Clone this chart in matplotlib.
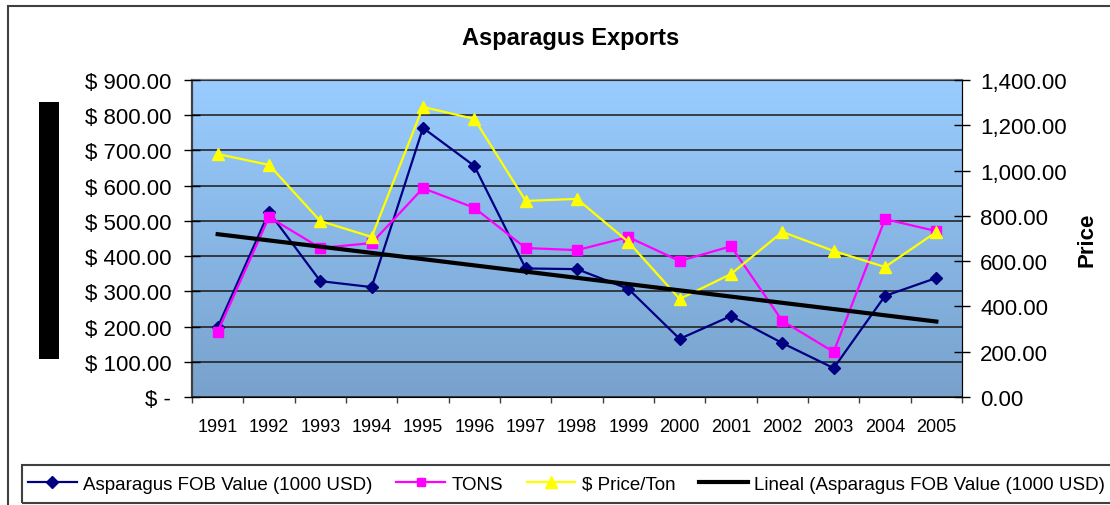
import numpy as np
import matplotlib
matplotlib.use("Agg")
import matplotlib.pyplot as plt
from matplotlib.patches import Rectangle
from matplotlib.ticker import FuncFormatter, FixedLocator

plt.rcParams['font.family'] = ['Liberation Sans', 'DejaVu Sans']

years = ['1991', '1992', '1993', '1994', '1995', '1996', '1997', '1998',
         '1999', '2000', '2001', '2002', '2003', '2004', '2005']
fob_value = [198, 525, 329, 312, 764, 656, 365, 363, 307, 165, 230, 153, 82, 287, 338]
tons = [185, 511, 423, 437, 593, 537, 423, 417, 454, 386, 428, 216, 128, 505, 471]
price_ton = [1073, 1025, 777, 707, 1281, 1228, 866, 875, 685, 433, 543, 729, 645, 574, 729]

left_ticks = list(range(0, 901, 100))
right_ticks = list(range(0, 1401, 200))

W, H = 1110, 506
fig = plt.figure(figsize=(W / 100, H / 100), dpi=100)
ax = fig.add_axes([192 / W, 1 - 398 / H, 770 / W, 317 / H])
ax2 = ax.twinx()

x = np.arange(len(years))

# gradient plot area
grad = np.linspace(0, 1, 256).reshape(-1, 1)
top = np.array([153, 204, 255]) / 255
bot = np.array([120, 162, 204]) / 255
img = top[None, None, :] * (1 - grad[:, :, None]) + bot[None, None, :] * grad[:, :, None]
ax.imshow(img, extent=(0, 1, 0, 1), transform=ax.transAxes, aspect='auto', zorder=0)

ax.set_xlim(-0.5, len(years) - 0.5)
ax.set_ylim(0, 900)
ax2.set_ylim(0, 1400)

ax.set_yticks(left_ticks)
ax2.set_yticks(right_ticks)
ax.yaxis.set_major_formatter(FuncFormatter(lambda v, p: '$ -' if v == 0 else '$ {:,.2f}'.format(v)))
ax2.yaxis.set_major_formatter(FuncFormatter(lambda v, p: '{:,.2f}'.format(v)))

ax.xaxis.set_major_locator(FixedLocator(np.arange(-0.5, len(years), 1.0)))
ax.xaxis.set_minor_locator(FixedLocator(x))
ax.set_xticklabels([], minor=False)
ax.set_xticklabels(years, minor=True)
ax.tick_params(axis='x', which='major', direction='out', length=4, width=1, color='#404040')
ax.tick_params(axis='x', which='minor', length=0, pad=15, labelsize=13)
ax.tick_params(axis='y', direction='inout', length=12, width=1, pad=9, labelsize=16)
ax2.tick_params(axis='y', direction='inout', length=12, width=1, pad=7, labelsize=16)

ax.grid(axis='y', color='#1a1a1a', linewidth=1.1)
ax.set_axisbelow(False)
ax.spines['left'].set_color('#404040')
ax.spines['left'].set_linewidth(1.6)
ax.spines['top'].set_color('#808080')
ax.spines['top'].set_linewidth(1.6)
ax2.spines['top'].set_visible(False)
ax2.spines['left'].set_visible(False)
ax2.spines['bottom'].set_visible(False)
ax2.spines['right'].set_color('black')

l1, = ax.plot(x, fob_value, color='#000080', lw=1.6, marker='D', ms=6.5, zorder=3,
              label='Asparagus FOB Value (1000 USD)')
l2, = ax.plot(x, tons, color='#FF00FF', lw=1.6, marker='s', ms=7, zorder=3, label='TONS')
l3, = ax2.plot(x, price_ton, color='#FFFF00', lw=1.6, marker='^', ms=9, zorder=3,
               label='$ Price/Ton')
# linear trendline of FOB value
coef = np.polyfit(x, fob_value, 1)
l4, = ax2.plot(x, np.polyval(coef, x), color='black', lw=3, zorder=4,
               transform=ax.transData, label='Lineal (Asparagus FOB Value (1000 USD)')

ax2.set_ylabel('Price', fontsize=16, fontweight='bold', labelpad=7)

fig.text(571 / W, 1 - 38 / H, 'Asparagus Exports', ha='center', va='center',
         fontsize=17, fontweight='bold')

# left axis title box
fig.patches.append(Rectangle((39 / W, 1 - 360 / H), 20 / W, 257 / H,
                             transform=fig.transFigure, facecolor='black', edgecolor='none'))
# chart border
fig.patches.append(Rectangle((8 / W, -0.1), 1.2, 1.1 - 7 / H, transform=fig.transFigure,
                             fill=False, edgecolor='#404040', lw=1.5))
# legend box
fig.patches.append(Rectangle((22 / W, 1 - 504 / H), 1.2, 38 / H, transform=fig.transFigure,
                             fill=False, edgecolor='#404040', lw=1.5))

fig.legend(handles=[l1, l2, l3, l4], loc='center left', bbox_to_anchor=(28 / W, 1 - 485 / H),
           ncol=4, frameon=False, fontsize=13.5, handlelength=2.6, handletextpad=0.35,
           columnspacing=1.25, borderpad=0, borderaxespad=0, markerscale=0.9)

fig.savefig('out.png', dpi=100)
